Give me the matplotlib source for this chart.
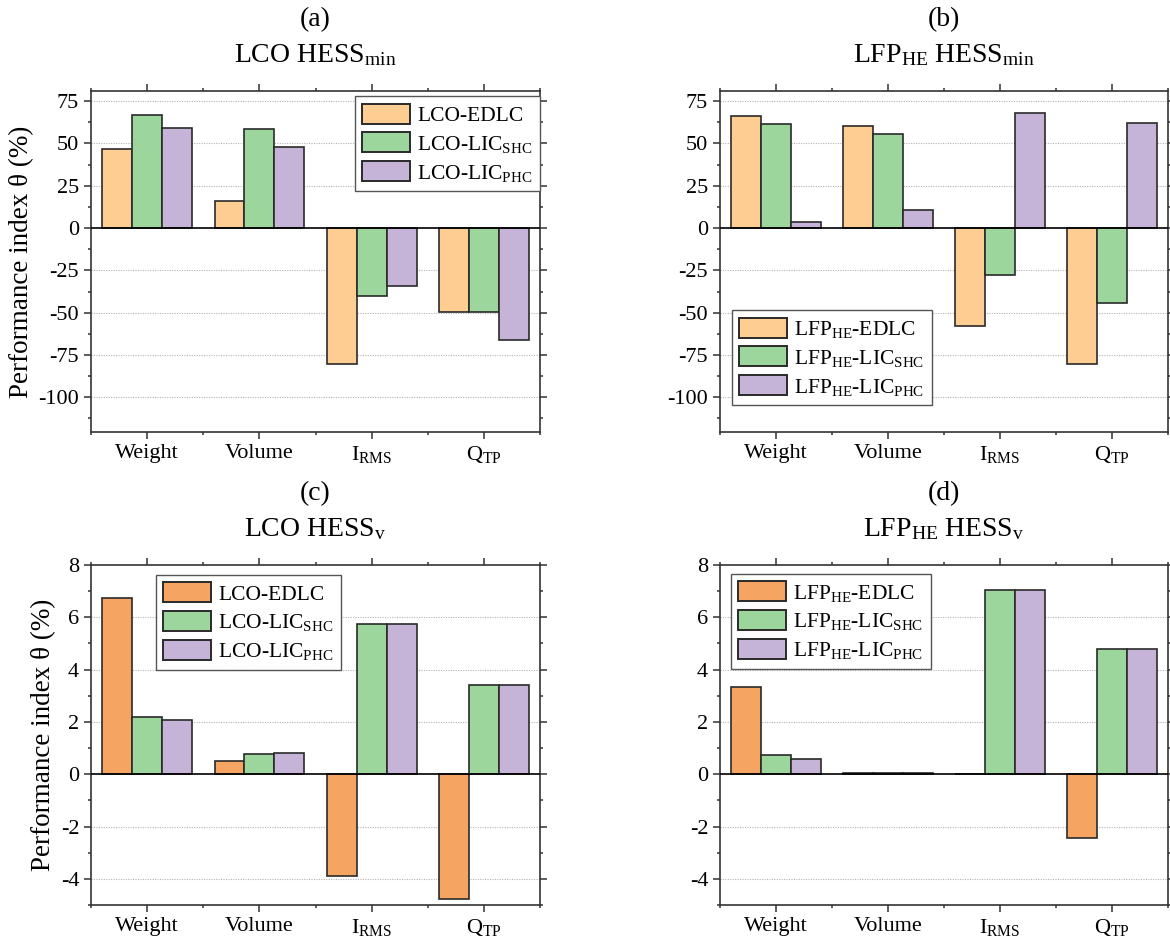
import matplotlib
matplotlib.use("Agg")
import matplotlib.pyplot as plt
import numpy as np
from matplotlib.ticker import MultipleLocator, FixedLocator

plt.rcParams['font.family'] = ['Liberation Serif', 'DejaVu Serif']
plt.rcParams['mathtext.fontset'] = 'custom'
plt.rcParams['mathtext.rm'] = 'Liberation Serif'
plt.rcParams['mathtext.it'] = 'Liberation Serif:italic'
plt.rcParams['axes.unicode_minus'] = False

categories = ['Weight', 'Volume', 'I$_{\\mathrm{RMS}}$', 'Q$_{\\mathrm{TP}}$']

# (a) LCO HESS_min
a_edlc = [46.8, 15.9, -80.5, -49.7]
a_shc = [67.0, 58.5, -40.3, -49.7]
a_phc = [59.4, 48.2, -34.0, -66.2]

# (b) LFP_HE HESS_min
b_edlc = [66.2, 60.5, -58.0, -80.3]
b_shc = [61.5, 55.4, -27.6, -44.1]
b_phc = [3.5, 10.4, 68.1, 62.1]

# (c) LCO HESS_v
c_edlc = [6.72, 0.49, -3.88, -4.76]
c_shc = [2.20, 0.76, 5.76, 3.41]
c_phc = [2.09, 0.82, 5.76, 3.41]

# (d) LFP_HE HESS_v
d_edlc = [3.32, 0.05, 0.0, -2.42]
d_shc = [0.74, 0.05, 7.04, 4.80]
d_phc = [0.59, 0.05, 7.04, 4.80]

lco_labels = ['LCO-EDLC', 'LCO-LIC$_{\\mathrm{SHC}}$', 'LCO-LIC$_{\\mathrm{PHC}}$']
lfp_labels = ['LFP$_{\\mathrm{HE}}$-EDLC', 'LFP$_{\\mathrm{HE}}$-LIC$_{\\mathrm{SHC}}$',
              'LFP$_{\\mathrm{HE}}$-LIC$_{\\mathrm{PHC}}$']

light_orange = '#FECD92'
dark_orange = '#F5A561'
green = '#9DD69D'
purple = '#C5B4D7'

fig = plt.figure(figsize=(11.7, 9.43), dpi=100)

pos = {
    'a': [0.0778, 0.5419, 0.3838, 0.3616],
    'b': [0.6154, 0.5419, 0.3829, 0.3616],
    'c': [0.0778, 0.0403, 0.3838, 0.3606],
    'd': [0.6154, 0.0403, 0.3829, 0.3606],
}


def panel(key, letter, title, series, labels, colors, ylim, major, minor,
          leg_loc, leg_anchor, ylabel):
    ax = fig.add_axes(pos[key])
    x = np.arange(1, len(categories) + 1)
    w = 0.8 / 3
    for i, (vals, lab, col) in enumerate(zip(series, labels, colors)):
        ax.bar(x + (i - 1) * w, vals, w, color=col, edgecolor='#2a2a2a',
               linewidth=1.2, label=lab, zorder=3)
    ax.axhline(0, color='black', lw=1.2, zorder=4)
    ax.set_xlim(0.5, 4.5)
    ax.set_ylim(*ylim)
    ax.set_xticks(x)
    ax.set_xticklabels(categories)
    ax.xaxis.set_minor_locator(FixedLocator([0.5, 1.5, 2.5, 3.5, 4.5]))
    ax.yaxis.set_major_locator(MultipleLocator(major))
    ax.yaxis.set_minor_locator(MultipleLocator(minor))
    ax.tick_params(which='both', direction='out', top=True, right=True,
                   labelsize=16, color='#333333', width=1.1)
    ax.tick_params(which='major', length=5)
    ax.tick_params(which='minor', length=2.5)
    ax.tick_params(axis='x', pad=4)
    for t in ax.get_yticks():
        if ylim[0] < t < ylim[1] - 0.5 and t != 0:
            ax.axhline(t, color='#b5b5b5', lw=0.8, ls=(0, (1, 1.2)), zorder=1)
    for s in ax.spines.values():
        s.set_color('#333333')
        s.set_linewidth(1.2)
    if ylabel:
        ax.set_ylabel('Performance index θ (%)', fontsize=19.5, labelpad=3)
    ax.text(0.5, 1.21, letter, transform=ax.transAxes, ha='center',
            va='center', fontsize=20)
    ax.text(0.5, 1.105, title, transform=ax.transAxes, ha='center',
            va='center', fontsize=20)
    leg = ax.legend(loc=leg_loc, bbox_to_anchor=leg_anchor, borderaxespad=0,
                    fontsize=15.5, fancybox=False, framealpha=1,
                    edgecolor='#555555', handlelength=2.2, handleheight=1.05,
                    labelspacing=0.3, handletextpad=0.35, borderpad=0.35)
    leg.get_frame().set_linewidth(1.0)
    for h in leg.legend_handles:
        h.set_linewidth(1.4)
    return ax


panel('a', '(a)', 'LCO HESS$_{\\mathrm{min}}$', [a_edlc, a_shc, a_phc],
      lco_labels, [light_orange, green, purple], (-120.5, 81), 25, 12.5,
      'upper right', (1.0, 0.985), True)
panel('b', '(b)', 'LFP$_{\\mathrm{HE}}$ HESS$_{\\mathrm{min}}$',
      [b_edlc, b_shc, b_phc], lfp_labels, [light_orange, green, purple],
      (-120.5, 81), 25, 12.5, 'lower left', (0.026, 0.079), False)
panel('c', '(c)', 'LCO HESS$_{\\mathrm{v}}$', [c_edlc, c_shc, c_phc],
      lco_labels, [dark_orange, green, purple], (-5, 8), 2, 1,
      'upper left', (0.144, 0.971), True)
panel('d', '(d)', 'LFP$_{\\mathrm{HE}}$ HESS$_{\\mathrm{v}}$',
      [d_edlc, d_shc, d_phc], lfp_labels, [dark_orange, green, purple],
      (-5, 8), 2, 1, 'upper left', (0.024, 0.974), False)

fig.savefig('out.png', dpi=100)
